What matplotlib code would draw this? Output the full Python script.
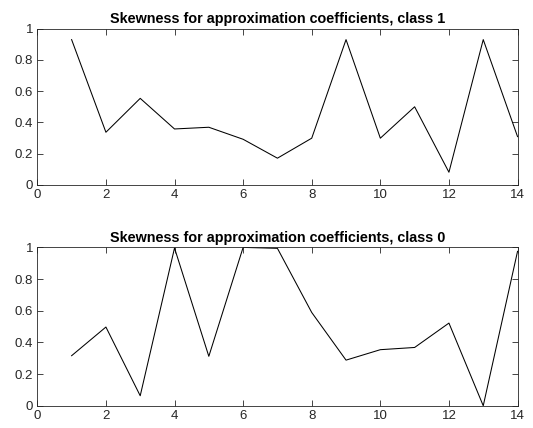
import matplotlib.pyplot as plt

plt.rcParams['font.family'] = ['Liberation Sans', 'DejaVu Sans']

x = list(range(1, 15))
skew_class1 = [0.93, 0.337, 0.554, 0.358, 0.369, 0.292, 0.171,
               0.299, 0.93, 0.299, 0.50, 0.081, 0.93, 0.309]
skew_class0 = [0.316, 0.497, 0.063, 0.996, 0.312, 1.0, 0.994,
               0.589, 0.288, 0.354, 0.368, 0.522, 0.0, 0.975]

titles = ["Skewness for approximation coefficients, class 1",
          "Skewness for approximation coefficients, class 0"]

fig = plt.figure(figsize=(5.33, 4.28), dpi=100)
ax1 = fig.add_axes([0.070, 0.568, 0.901, 0.365])
ax2 = fig.add_axes([0.070, 0.052, 0.901, 0.370])

for ax, y, title in zip([ax1, ax2], [skew_class1, skew_class0], titles):
    ax.plot(x, y, color='black', linewidth=0.75)
    ax.set_xlim(0, 14)
    ax.set_ylim(0, 1)
    ax.set_xticks(range(0, 15, 2))
    ax.set_yticks([0, 0.2, 0.4, 0.6, 0.8, 1])
    ax.set_yticklabels(['0', '0.2', '0.4', '0.6', '0.8', '1'])
    ax.tick_params(direction='in', top=True, right=True, length=4,
                   width=0.6, labelsize=9.5, colors='#262626',
                   labelcolor='#262626', pad=3)
    for s in ax.spines.values():
        s.set_color('#262626')
        s.set_linewidth(0.6)
    ax.set_title(title, fontsize=10.4, fontweight='bold', pad=4)

fig.savefig('out.png', dpi=100)
